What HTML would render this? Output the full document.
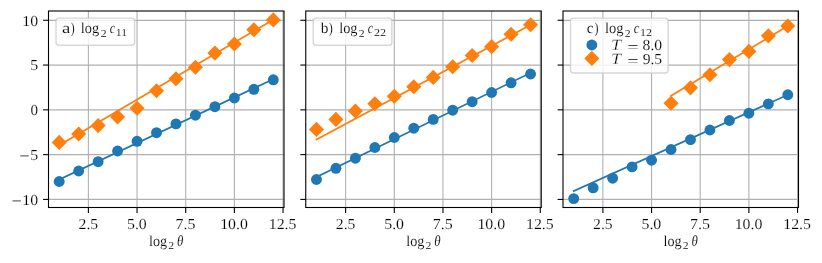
<!DOCTYPE html>
<html><head><meta charset="utf-8"><title>chart</title>
<style>html,body{margin:0;padding:0;background:#fff}svg{display:block;will-change:transform}text{text-rendering:geometricPrecision}</style>
</head><body>
<svg width="822" height="263" viewBox="0 0 822 263">
<rect width="822" height="263" fill="#fff"/>
<g>
<line x1="88.39" y1="11.0" x2="88.39" y2="207.5" stroke="#b0b0b0" stroke-width="1.1"/>
<line x1="137.05" y1="11.0" x2="137.05" y2="207.5" stroke="#b0b0b0" stroke-width="1.1"/>
<line x1="185.71" y1="11.0" x2="185.71" y2="207.5" stroke="#b0b0b0" stroke-width="1.1"/>
<line x1="234.37" y1="11.0" x2="234.37" y2="207.5" stroke="#b0b0b0" stroke-width="1.1"/>
<line x1="283.02" y1="11.0" x2="283.02" y2="207.5" stroke="#b0b0b0" stroke-width="1.1"/>
<line x1="48.5" y1="20.27" x2="284.0" y2="20.27" stroke="#b0b0b0" stroke-width="1.25"/>
<line x1="48.5" y1="65.06" x2="284.0" y2="65.06" stroke="#b0b0b0" stroke-width="1.25"/>
<line x1="48.5" y1="109.85" x2="284.0" y2="109.85" stroke="#b0b0b0" stroke-width="1.25"/>
<line x1="48.5" y1="154.63" x2="284.0" y2="154.63" stroke="#b0b0b0" stroke-width="1.25"/>
<line x1="48.5" y1="199.42" x2="284.0" y2="199.42" stroke="#b0b0b0" stroke-width="1.25"/>
<line x1="59.20" y1="179.51" x2="273.29" y2="79.18" stroke="#1f77b4" stroke-width="1.75" stroke-linecap="square"/>
<line x1="59.20" y1="145.35" x2="273.29" y2="19.70" stroke="#ff7f0e" stroke-width="1.75" stroke-linecap="square"/>
<circle cx="59.20" cy="181.50" r="5.45" fill="#1f77b4"/>
<circle cx="78.66" cy="171.00" r="5.45" fill="#1f77b4"/>
<circle cx="98.13" cy="161.70" r="5.45" fill="#1f77b4"/>
<circle cx="117.59" cy="151.00" r="5.45" fill="#1f77b4"/>
<circle cx="137.05" cy="141.30" r="5.45" fill="#1f77b4"/>
<circle cx="156.51" cy="132.70" r="5.45" fill="#1f77b4"/>
<circle cx="175.98" cy="123.90" r="5.45" fill="#1f77b4"/>
<circle cx="195.44" cy="115.20" r="5.45" fill="#1f77b4"/>
<circle cx="214.90" cy="106.70" r="5.45" fill="#1f77b4"/>
<circle cx="234.37" cy="98.00" r="5.45" fill="#1f77b4"/>
<circle cx="253.83" cy="89.30" r="5.45" fill="#1f77b4"/>
<circle cx="273.29" cy="79.80" r="5.45" fill="#1f77b4"/>
<path d="M59.20 134.85L66.75 142.40L59.20 149.95L51.65 142.40Z" fill="#ff7f0e"/>
<path d="M78.66 126.45L86.21 134.00L78.66 141.55L71.11 134.00Z" fill="#ff7f0e"/>
<path d="M98.13 118.05L105.68 125.60L98.13 133.15L90.58 125.60Z" fill="#ff7f0e"/>
<path d="M117.59 109.35L125.14 116.90L117.59 124.45L110.04 116.90Z" fill="#ff7f0e"/>
<path d="M137.05 100.75L144.60 108.30L137.05 115.85L129.50 108.30Z" fill="#ff7f0e"/>
<path d="M156.51 83.25L164.06 90.80L156.51 98.35L148.96 90.80Z" fill="#ff7f0e"/>
<path d="M175.98 71.15L183.53 78.70L175.98 86.25L168.43 78.70Z" fill="#ff7f0e"/>
<path d="M195.44 59.75L202.99 67.30L195.44 74.85L187.89 67.30Z" fill="#ff7f0e"/>
<path d="M214.90 45.55L222.45 53.10L214.90 60.65L207.35 53.10Z" fill="#ff7f0e"/>
<path d="M234.37 36.45L241.92 44.00L234.37 51.55L226.82 44.00Z" fill="#ff7f0e"/>
<path d="M253.83 22.25L261.38 29.80L253.83 37.35L246.28 29.80Z" fill="#ff7f0e"/>
<path d="M273.29 12.35L280.84 19.90L273.29 27.45L265.74 19.90Z" fill="#ff7f0e"/>
<line x1="88.39" y1="207.5" x2="88.39" y2="212.90" stroke="#000" stroke-width="1.1"/>
<line x1="137.05" y1="207.5" x2="137.05" y2="212.90" stroke="#000" stroke-width="1.1"/>
<line x1="185.71" y1="207.5" x2="185.71" y2="212.90" stroke="#000" stroke-width="1.1"/>
<line x1="234.37" y1="207.5" x2="234.37" y2="212.90" stroke="#000" stroke-width="1.1"/>
<line x1="283.02" y1="207.5" x2="283.02" y2="212.90" stroke="#000" stroke-width="1.1"/>
<line x1="43.10" y1="20.27" x2="48.5" y2="20.27" stroke="#000" stroke-width="1.1"/>
<line x1="43.10" y1="65.06" x2="48.5" y2="65.06" stroke="#000" stroke-width="1.1"/>
<line x1="43.10" y1="109.85" x2="48.5" y2="109.85" stroke="#000" stroke-width="1.1"/>
<line x1="43.10" y1="154.63" x2="48.5" y2="154.63" stroke="#000" stroke-width="1.1"/>
<line x1="43.10" y1="199.42" x2="48.5" y2="199.42" stroke="#000" stroke-width="1.1"/>
<rect x="48.5" y="11.0" width="235.50" height="196.50" fill="none" stroke="#000" stroke-width="1.1"/>
</g>
<g>
<line x1="345.64" y1="11.0" x2="345.64" y2="207.5" stroke="#b0b0b0" stroke-width="1.1"/>
<line x1="394.30" y1="11.0" x2="394.30" y2="207.5" stroke="#b0b0b0" stroke-width="1.1"/>
<line x1="442.96" y1="11.0" x2="442.96" y2="207.5" stroke="#b0b0b0" stroke-width="1.1"/>
<line x1="491.62" y1="11.0" x2="491.62" y2="207.5" stroke="#b0b0b0" stroke-width="1.1"/>
<line x1="540.27" y1="11.0" x2="540.27" y2="207.5" stroke="#b0b0b0" stroke-width="1.1"/>
<line x1="305.75" y1="20.27" x2="541.25" y2="20.27" stroke="#b0b0b0" stroke-width="1.25"/>
<line x1="305.75" y1="65.06" x2="541.25" y2="65.06" stroke="#b0b0b0" stroke-width="1.25"/>
<line x1="305.75" y1="109.85" x2="541.25" y2="109.85" stroke="#b0b0b0" stroke-width="1.25"/>
<line x1="305.75" y1="154.63" x2="541.25" y2="154.63" stroke="#b0b0b0" stroke-width="1.25"/>
<line x1="305.75" y1="199.42" x2="541.25" y2="199.42" stroke="#b0b0b0" stroke-width="1.25"/>
<line x1="316.45" y1="177.09" x2="530.54" y2="72.88" stroke="#1f77b4" stroke-width="1.75" stroke-linecap="square"/>
<line x1="316.45" y1="139.60" x2="530.54" y2="24.90" stroke="#ff7f0e" stroke-width="1.75" stroke-linecap="square"/>
<circle cx="316.45" cy="179.50" r="5.45" fill="#1f77b4"/>
<circle cx="335.91" cy="168.30" r="5.45" fill="#1f77b4"/>
<circle cx="355.38" cy="158.20" r="5.45" fill="#1f77b4"/>
<circle cx="374.84" cy="147.50" r="5.45" fill="#1f77b4"/>
<circle cx="394.30" cy="137.50" r="5.45" fill="#1f77b4"/>
<circle cx="413.76" cy="128.20" r="5.45" fill="#1f77b4"/>
<circle cx="433.23" cy="119.40" r="5.45" fill="#1f77b4"/>
<circle cx="452.69" cy="110.20" r="5.45" fill="#1f77b4"/>
<circle cx="472.15" cy="101.70" r="5.45" fill="#1f77b4"/>
<circle cx="491.62" cy="92.50" r="5.45" fill="#1f77b4"/>
<circle cx="511.08" cy="82.80" r="5.45" fill="#1f77b4"/>
<circle cx="530.54" cy="74.00" r="5.45" fill="#1f77b4"/>
<path d="M316.45 121.85L324.00 129.40L316.45 136.95L308.90 129.40Z" fill="#ff7f0e"/>
<path d="M335.91 111.85L343.46 119.40L335.91 126.95L328.36 119.40Z" fill="#ff7f0e"/>
<path d="M355.38 103.45L362.93 111.00L355.38 118.55L347.83 111.00Z" fill="#ff7f0e"/>
<path d="M374.84 96.15L382.39 103.70L374.84 111.25L367.29 103.70Z" fill="#ff7f0e"/>
<path d="M394.30 88.80L401.85 96.35L394.30 103.90L386.75 96.35Z" fill="#ff7f0e"/>
<path d="M413.76 79.15L421.31 86.70L413.76 94.25L406.21 86.70Z" fill="#ff7f0e"/>
<path d="M433.23 69.85L440.78 77.40L433.23 84.95L425.68 77.40Z" fill="#ff7f0e"/>
<path d="M452.69 59.25L460.24 66.80L452.69 74.35L445.14 66.80Z" fill="#ff7f0e"/>
<path d="M472.15 47.95L479.70 55.50L472.15 63.05L464.60 55.50Z" fill="#ff7f0e"/>
<path d="M491.62 39.10L499.17 46.65L491.62 54.20L484.07 46.65Z" fill="#ff7f0e"/>
<path d="M511.08 26.75L518.63 34.30L511.08 41.85L503.53 34.30Z" fill="#ff7f0e"/>
<path d="M530.54 17.20L538.09 24.75L530.54 32.30L522.99 24.75Z" fill="#ff7f0e"/>
<line x1="345.64" y1="207.5" x2="345.64" y2="212.90" stroke="#000" stroke-width="1.1"/>
<line x1="394.30" y1="207.5" x2="394.30" y2="212.90" stroke="#000" stroke-width="1.1"/>
<line x1="442.96" y1="207.5" x2="442.96" y2="212.90" stroke="#000" stroke-width="1.1"/>
<line x1="491.62" y1="207.5" x2="491.62" y2="212.90" stroke="#000" stroke-width="1.1"/>
<line x1="540.27" y1="207.5" x2="540.27" y2="212.90" stroke="#000" stroke-width="1.1"/>
<line x1="300.35" y1="20.27" x2="305.75" y2="20.27" stroke="#000" stroke-width="1.1"/>
<line x1="300.35" y1="65.06" x2="305.75" y2="65.06" stroke="#000" stroke-width="1.1"/>
<line x1="300.35" y1="109.85" x2="305.75" y2="109.85" stroke="#000" stroke-width="1.1"/>
<line x1="300.35" y1="154.63" x2="305.75" y2="154.63" stroke="#000" stroke-width="1.1"/>
<line x1="300.35" y1="199.42" x2="305.75" y2="199.42" stroke="#000" stroke-width="1.1"/>
<rect x="305.75" y="11.0" width="235.50" height="196.50" fill="none" stroke="#000" stroke-width="1.1"/>
</g>
<g>
<line x1="602.89" y1="11.0" x2="602.89" y2="207.5" stroke="#b0b0b0" stroke-width="1.1"/>
<line x1="651.55" y1="11.0" x2="651.55" y2="207.5" stroke="#b0b0b0" stroke-width="1.1"/>
<line x1="700.21" y1="11.0" x2="700.21" y2="207.5" stroke="#b0b0b0" stroke-width="1.1"/>
<line x1="748.87" y1="11.0" x2="748.87" y2="207.5" stroke="#b0b0b0" stroke-width="1.1"/>
<line x1="797.52" y1="11.0" x2="797.52" y2="207.5" stroke="#b0b0b0" stroke-width="1.1"/>
<line x1="563.0" y1="20.27" x2="798.5" y2="20.27" stroke="#b0b0b0" stroke-width="1.25"/>
<line x1="563.0" y1="65.06" x2="798.5" y2="65.06" stroke="#b0b0b0" stroke-width="1.25"/>
<line x1="563.0" y1="109.85" x2="798.5" y2="109.85" stroke="#b0b0b0" stroke-width="1.25"/>
<line x1="563.0" y1="154.63" x2="798.5" y2="154.63" stroke="#b0b0b0" stroke-width="1.25"/>
<line x1="563.0" y1="199.42" x2="798.5" y2="199.42" stroke="#b0b0b0" stroke-width="1.25"/>
<line x1="573.70" y1="191.00" x2="787.79" y2="94.80" stroke="#1f77b4" stroke-width="1.75" stroke-linecap="square"/>
<line x1="671.02" y1="95.70" x2="787.79" y2="26.00" stroke="#ff7f0e" stroke-width="1.75" stroke-linecap="square"/>
<circle cx="573.70" cy="198.60" r="5.45" fill="#1f77b4"/>
<circle cx="593.16" cy="187.80" r="5.45" fill="#1f77b4"/>
<circle cx="612.63" cy="178.20" r="5.45" fill="#1f77b4"/>
<circle cx="632.09" cy="166.90" r="5.45" fill="#1f77b4"/>
<circle cx="651.55" cy="160.20" r="5.45" fill="#1f77b4"/>
<circle cx="671.02" cy="149.50" r="5.45" fill="#1f77b4"/>
<circle cx="690.48" cy="139.65" r="5.45" fill="#1f77b4"/>
<circle cx="709.94" cy="130.00" r="5.45" fill="#1f77b4"/>
<circle cx="729.40" cy="120.50" r="5.45" fill="#1f77b4"/>
<circle cx="748.87" cy="113.20" r="5.45" fill="#1f77b4"/>
<circle cx="768.33" cy="103.90" r="5.45" fill="#1f77b4"/>
<circle cx="787.79" cy="94.75" r="5.45" fill="#1f77b4"/>
<path d="M671.02 95.65L678.57 103.20L671.02 110.75L663.47 103.20Z" fill="#ff7f0e"/>
<path d="M690.48 80.30L698.03 87.85L690.48 95.40L682.93 87.85Z" fill="#ff7f0e"/>
<path d="M709.94 67.25L717.49 74.80L709.94 82.35L702.39 74.80Z" fill="#ff7f0e"/>
<path d="M729.40 52.05L736.95 59.60L729.40 67.15L721.85 59.60Z" fill="#ff7f0e"/>
<path d="M748.87 43.85L756.42 51.40L748.87 58.95L741.32 51.40Z" fill="#ff7f0e"/>
<path d="M768.33 28.30L775.88 35.85L768.33 43.40L760.78 35.85Z" fill="#ff7f0e"/>
<path d="M787.79 18.45L795.34 26.00L787.79 33.55L780.24 26.00Z" fill="#ff7f0e"/>
<line x1="602.89" y1="207.5" x2="602.89" y2="212.90" stroke="#000" stroke-width="1.1"/>
<line x1="651.55" y1="207.5" x2="651.55" y2="212.90" stroke="#000" stroke-width="1.1"/>
<line x1="700.21" y1="207.5" x2="700.21" y2="212.90" stroke="#000" stroke-width="1.1"/>
<line x1="748.87" y1="207.5" x2="748.87" y2="212.90" stroke="#000" stroke-width="1.1"/>
<line x1="797.52" y1="207.5" x2="797.52" y2="212.90" stroke="#000" stroke-width="1.1"/>
<line x1="557.60" y1="20.27" x2="563.0" y2="20.27" stroke="#000" stroke-width="1.1"/>
<line x1="557.60" y1="65.06" x2="563.0" y2="65.06" stroke="#000" stroke-width="1.1"/>
<line x1="557.60" y1="109.85" x2="563.0" y2="109.85" stroke="#000" stroke-width="1.1"/>
<line x1="557.60" y1="154.63" x2="563.0" y2="154.63" stroke="#000" stroke-width="1.1"/>
<line x1="557.60" y1="199.42" x2="563.0" y2="199.42" stroke="#000" stroke-width="1.1"/>
<rect x="563.0" y="11.0" width="235.50" height="196.50" fill="none" stroke="#000" stroke-width="1.1"/>
</g>
<g font-family="Liberation Serif, serif" fill="#000" stroke="#fff" stroke-width="0.14">
<text transform="translate(78.56 229.00) scale(1.0249 1)" font-size="15.3">2.5</text>
<text transform="translate(126.98 229.00) scale(1.0366 1)" font-size="15.3">5.0</text>
<text transform="translate(175.51 229.00) scale(1.0446 1)" font-size="15.3">7.5</text>
<text transform="translate(220.13 229.00) scale(1.0343 1)" font-size="15.3">10.0</text>
<text transform="translate(268.78 229.00) scale(1.0349 1)" font-size="15.3">12.5</text>
<text transform="translate(148.97 246.00) scale(0.9286 1)" font-size="15.3">log</text>
<text transform="translate(168.33 249.00) scale(1.1166 1)" font-size="10.5">2</text>
<text transform="translate(177.12 246.00) scale(0.8425 1)" font-size="15.3" font-style="italic">θ</text>
<text transform="translate(335.81 229.00) scale(1.0249 1)" font-size="15.3">2.5</text>
<text transform="translate(384.23 229.00) scale(1.0366 1)" font-size="15.3">5.0</text>
<text transform="translate(432.76 229.00) scale(1.0446 1)" font-size="15.3">7.5</text>
<text transform="translate(477.38 229.00) scale(1.0343 1)" font-size="15.3">10.0</text>
<text transform="translate(526.03 229.00) scale(1.0349 1)" font-size="15.3">12.5</text>
<text transform="translate(406.22 246.00) scale(0.9286 1)" font-size="15.3">log</text>
<text transform="translate(425.58 249.00) scale(1.1166 1)" font-size="10.5">2</text>
<text transform="translate(434.37 246.00) scale(0.8425 1)" font-size="15.3" font-style="italic">θ</text>
<text transform="translate(593.06 229.00) scale(1.0249 1)" font-size="15.3">2.5</text>
<text transform="translate(641.48 229.00) scale(1.0366 1)" font-size="15.3">5.0</text>
<text transform="translate(690.01 229.00) scale(1.0446 1)" font-size="15.3">7.5</text>
<text transform="translate(734.63 229.00) scale(1.0343 1)" font-size="15.3">10.0</text>
<text transform="translate(783.28 229.00) scale(1.0349 1)" font-size="15.3">12.5</text>
<text transform="translate(663.47 246.00) scale(0.9286 1)" font-size="15.3">log</text>
<text transform="translate(682.83 249.00) scale(1.1166 1)" font-size="10.5">2</text>
<text transform="translate(691.62 246.00) scale(0.8425 1)" font-size="15.3" font-style="italic">θ</text>
<text transform="translate(22.36 26.00) scale(1.0320 1)" font-size="15.3">10</text>
<text transform="translate(30.23 70.00) scale(1.0384 1)" font-size="15.3">5</text>
<text transform="translate(30.57 115.00) scale(0.9870 1)" font-size="15.3">0</text>
<text transform="translate(30.23 160.00) scale(1.0384 1)" font-size="15.3">5</text>
<text transform="translate(19.13 161.00) scale(1.2079 1)" font-size="15.3">−</text>
<text transform="translate(22.36 205.00) scale(1.0320 1)" font-size="15.3">10</text>
<text transform="translate(11.44 206.00) scale(1.1939 1)" font-size="15.3">−</text>
</g>
<rect x="56.0" y="18.15" width="78.6" height="27.15" rx="3.05" ry="3.05" fill="#fff" fill-opacity="0.8" stroke="#ccc" stroke-opacity="0.8" stroke-width="1.39"/>
<rect x="313.25" y="18.15" width="78.6" height="27.15" rx="3.05" ry="3.05" fill="#fff" fill-opacity="0.8" stroke="#ccc" stroke-opacity="0.8" stroke-width="1.39"/>
<rect x="570.5" y="18.15" width="97.6" height="54.8" rx="3.05" ry="3.05" fill="#fff" fill-opacity="0.8" stroke="#ccc" stroke-opacity="0.8" stroke-width="1.39"/>
<g font-family="Liberation Serif, serif" fill="#000" stroke="#fff" stroke-width="0.14">
<text transform="translate(61.99 33.00) scale(1.2244 1)" font-size="15.3">a</text>
<text transform="translate(70.67 33.00) scale(0.7634 1)" font-size="15.3">)</text>
<text transform="translate(80.86 33.00) scale(0.9392 1)" font-size="15.3">log</text>
<text transform="translate(100.40 37.00) scale(1.1879 1)" font-size="10.5">2</text>
<text transform="translate(109.78 33.00) scale(0.7960 1)" font-size="15.3" font-style="italic">c</text>
<text transform="translate(115.72 36.00) scale(1.1178 1)" font-size="10.5">11</text>
<text transform="translate(320.65 33.00) scale(1.0046 1)" font-size="15.3">b</text>
<text transform="translate(328.86 33.00) scale(0.7889 1)" font-size="15.3">)</text>
<text transform="translate(339.16 33.00) scale(0.9392 1)" font-size="15.3">log</text>
<text transform="translate(358.73 37.00) scale(1.1166 1)" font-size="10.5">2</text>
<text transform="translate(367.78 33.00) scale(0.7960 1)" font-size="15.3" font-style="italic">c</text>
<text transform="translate(374.02 36.00) scale(1.1523 1)" font-size="10.5">22</text>
<text transform="translate(586.86 33.00) scale(1.0109 1)" font-size="15.3">c</text>
<text transform="translate(594.46 33.00) scale(0.7889 1)" font-size="15.3">)</text>
<text transform="translate(605.06 33.00) scale(0.9497 1)" font-size="15.3">log</text>
<text transform="translate(624.73 37.00) scale(1.1166 1)" font-size="10.5">2</text>
<text transform="translate(633.86 33.00) scale(0.8285 1)" font-size="15.3" font-style="italic">c</text>
<text transform="translate(640.09 36.00) scale(1.1447 1)" font-size="10.5">12</text>
<text transform="translate(611.06 50.00) scale(1.1888 1.02)" font-size="15.3" font-style="italic" stroke-width="0.3">T</text>
<text transform="translate(627.24 52.00) scale(1.3203 1)" font-size="15.3">=</text>
<text transform="translate(611.06 64.00) scale(1.1888 1.02)" font-size="15.3" font-style="italic" stroke-width="0.3">T</text>
<text transform="translate(627.24 66.00) scale(1.3203 1)" font-size="15.3">=</text>
<text transform="translate(642.55 50.00) scale(1.0245 1)" font-size="15.3">8.0</text>
<text transform="translate(642.65 64.00) scale(1.0203 1)" font-size="15.3">9.5</text>
</g>
<circle cx="591.85" cy="45.0" r="5.45" fill="#1f77b4"/>
<path d="M591.85 50.85L599.40 58.40L591.85 65.95L584.30 58.40Z" fill="#ff7f0e"/>
</svg>
</body></html>
